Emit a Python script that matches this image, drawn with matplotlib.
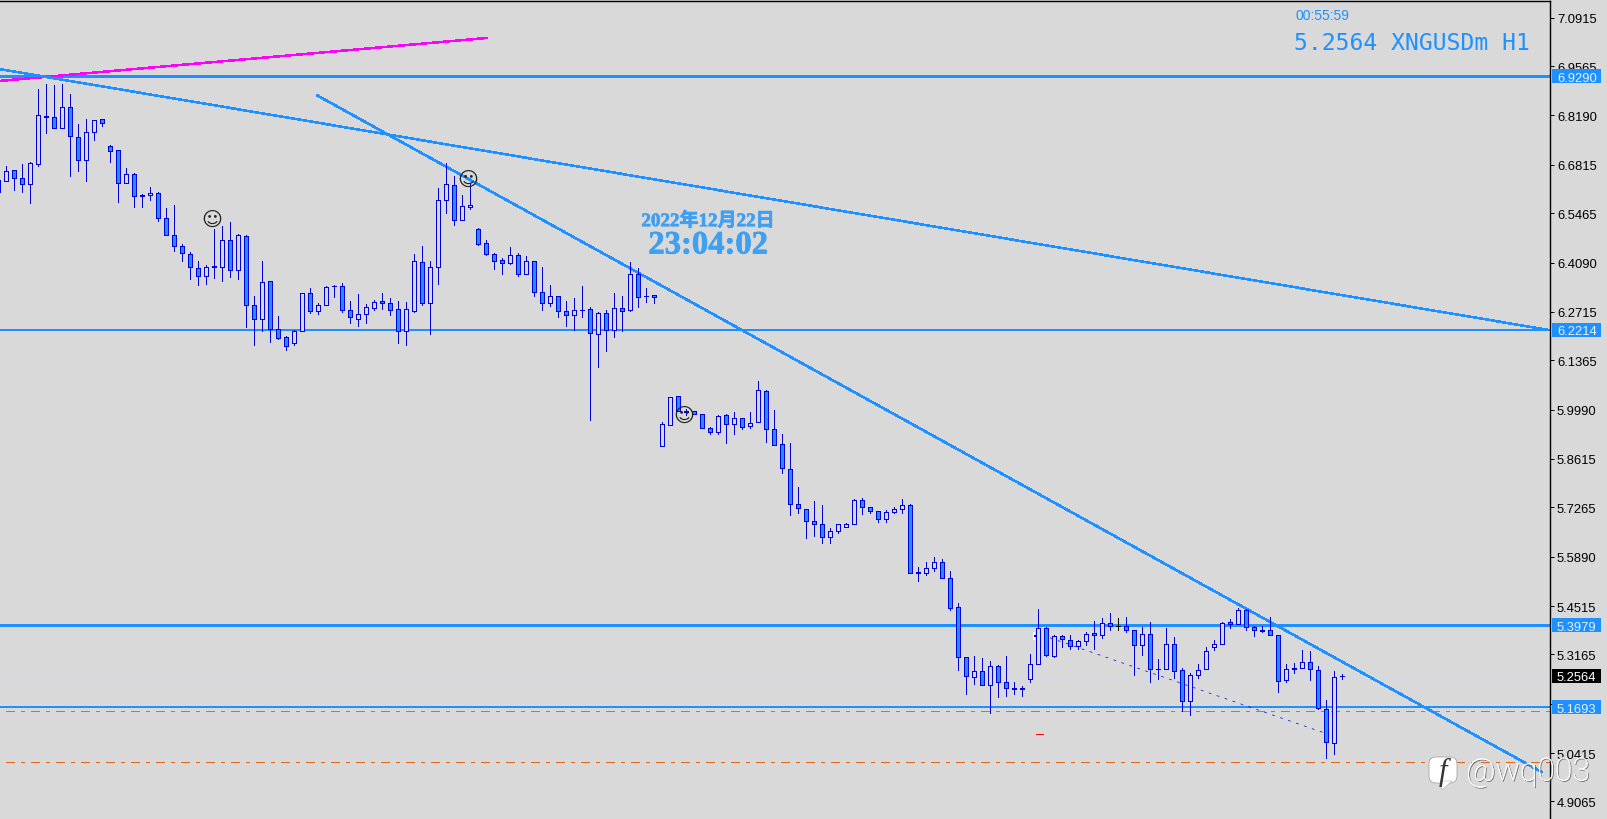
import numpy as np
import matplotlib
matplotlib.use("Agg")
import matplotlib.pyplot as plt
import matplotlib.patheffects as pe
from matplotlib.patches import FancyBboxPatch, Polygon, Rectangle
from matplotlib.transforms import IdentityTransform

BG = "#d9d9d9"
LINEBLUE = "#1e90ff"
WICK = "#0000dc"
PX = 0.72  # one pixel in points at dpi 100

opens = [
    6.607,
    6.636, 6.667, 6.645, 6.627, 6.683, 6.818, 6.815, 6.783, 6.843, 6.759, 6.694, 6.772, 6.808, 6.734, 6.723,
    6.630, 6.656, 6.597, 6.596, 6.603, 6.533, 6.486, 6.455, 6.433, 6.394, 6.371, 6.399, 6.396, 6.472, 6.387,
    6.483, 6.290, 6.251, 6.357, 6.224, 6.201, 6.186, 6.217, 6.324, 6.273, 6.292, 6.345, 6.344,
    6.277, 6.253, 6.265, 6.281, 6.302, 6.296, 6.279, 6.217, 6.273, 6.411, 6.295, 6.396, 6.584, 6.625, 6.527,
    6.564, 6.503, 6.464, 6.433, 6.415, 6.407, 6.430, 6.376, 6.413, 6.327, 6.295, 6.316, 6.274, 6.262, 6.278,
    6.279, 6.209, 6.268, 6.220, 6.282, 6.276, 6.378, 6.317, 6.319,
    5.897, 5.956, 6.037, 5.995, 5.996, 5.987, 5.948, 5.936, 5.985, 5.958, 5.976, 5.953, 5.965, 6.051, 5.945,
    5.904, 5.834, 5.736, 5.722, 5.689, 5.680, 5.644, 5.660, 5.671, 5.679, 5.747, 5.728, 5.717, 5.693, 5.713,
    5.721, 5.733, 5.545, 5.543, 5.557, 5.574, 5.530,
    5.449, 5.309, 5.253, 5.271, 5.231, 5.285, 5.240, 5.223, 5.223, 5.247, 5.289, 5.391, 5.311, 5.368, 5.357,
    5.339, 5.353, 5.375, 5.370, 5.405, 5.397, 5.396, 5.385, 5.343, 5.374, 5.277, 5.275, 5.346, 5.273, 5.186,
    5.259, 5.275, 5.337, 5.346, 5.407, 5.401, 5.441, 5.394, 5.385, 5.385, 5.371, 5.245, 5.279, 5.278, 5.296,
    5.273, 5.165, 5.069, 5.2564,
]
closes = [
    6.638,
    6.664, 6.645, 6.627, 6.687, 6.821, 6.814, 6.784, 6.843, 6.761, 6.694, 6.773, 6.807, 6.797, 6.719, 6.630,
    6.656, 6.594, 6.594, 6.603, 6.532, 6.485, 6.454, 6.435, 6.396, 6.371, 6.397, 6.396, 6.472, 6.387, 6.487,
    6.290, 6.251, 6.355, 6.223, 6.200, 6.175, 6.218, 6.324, 6.273, 6.290, 6.341, 6.343, 6.276,
    6.256, 6.266, 6.285, 6.299, 6.295, 6.276, 6.217, 6.279, 6.413, 6.295, 6.397, 6.584, 6.628, 6.527, 6.567,
    6.570, 6.460, 6.432, 6.413, 6.407, 6.430, 6.376, 6.413, 6.327, 6.296, 6.316, 6.273, 6.262, 6.277, 6.276,
    6.214, 6.268, 6.220, 6.282, 6.273, 6.377, 6.313, 6.315, 6.312,
    5.959, 6.035, 5.995, 5.993, 5.987, 5.947, 5.936, 5.982, 5.958, 5.976, 5.951, 5.962, 6.054, 5.945, 5.900,
    5.836, 5.735, 5.724, 5.688, 5.679, 5.643, 5.661, 5.680, 5.680, 5.747, 5.728, 5.716, 5.693, 5.714, 5.722,
    5.733, 5.544, 5.543, 5.558, 5.574, 5.529, 5.446,
    5.309, 5.256, 5.271, 5.231, 5.285, 5.239, 5.222, 5.221, 5.219, 5.290, 5.391, 5.314, 5.368, 5.359, 5.339,
    5.354, 5.374, 5.371, 5.405, 5.396, 5.395, 5.384, 5.343, 5.374, 5.275, 5.275, 5.346, 5.270, 5.186, 5.260,
    5.273, 5.326, 5.346, 5.405, 5.401, 5.441, 5.394, 5.384, 5.383, 5.371, 5.243, 5.276, 5.275, 5.296, 5.275,
    5.166, 5.072, 5.254, 5.2564,
]
highs = [
    6.638,
    6.679, 6.668, 6.685, 6.690, 6.894, 6.908, 6.905, 6.908, 6.880, 6.796, 6.808, 6.807, 6.810, 6.737, 6.723,
    6.674, 6.659, 6.599, 6.621, 6.605, 6.562, 6.570, 6.462, 6.438, 6.414, 6.402, 6.503, 6.512, 6.523, 6.490,
    6.487, 6.317, 6.414, 6.358, 6.261, 6.205, 6.222, 6.324, 6.339, 6.297, 6.344, 6.346, 6.352,
    6.303, 6.320, 6.294, 6.305, 6.325, 6.311, 6.303, 6.300, 6.434, 6.456, 6.412, 6.618, 6.687, 6.651, 6.596,
    6.631, 6.505, 6.473, 6.436, 6.422, 6.451, 6.436, 6.428, 6.413, 6.398, 6.347, 6.317, 6.303, 6.311, 6.345,
    6.285, 6.270, 6.278, 6.325, 6.317, 6.411, 6.395, 6.339, 6.319,
    5.965, 6.035, 6.038, 6.002, 5.996, 5.987, 5.951, 5.985, 5.988, 5.991, 5.976, 5.991, 6.080, 6.054, 5.998,
    5.930, 5.907, 5.782, 5.722, 5.743, 5.734, 5.669, 5.680, 5.683, 5.750, 5.754, 5.728, 5.717, 5.719, 5.728,
    5.751, 5.736, 5.559, 5.575, 5.589, 5.583, 5.550,
    5.460, 5.309, 5.313, 5.307, 5.297, 5.287, 5.311, 5.241, 5.228, 5.318, 5.442, 5.393, 5.372, 5.372, 5.372,
    5.358, 5.380, 5.411, 5.419, 5.431, 5.419, 5.421, 5.385, 5.392, 5.406, 5.305, 5.389, 5.366, 5.279, 5.265,
    5.291, 5.338, 5.358, 5.407, 5.416, 5.446, 5.444, 5.396, 5.397, 5.421, 5.372, 5.291, 5.294, 5.329, 5.325,
    5.283, 5.190, 5.269, 5.263,
]
lows = [
    6.607,
    6.636, 6.610, 6.607, 6.576, 6.677, 6.769, 6.784, 6.783, 6.650, 6.665, 6.637, 6.752, 6.791, 6.689, 6.579,
    6.630, 6.565, 6.565, 6.584, 6.526, 6.485, 6.442, 6.414, 6.364, 6.347, 6.350, 6.367, 6.358, 6.370, 6.364,
    6.230, 6.180, 6.219, 6.188, 6.197, 6.166, 6.180, 6.217, 6.269, 6.266, 6.290, 6.314, 6.272,
    6.241, 6.233, 6.241, 6.278, 6.280, 6.264, 6.186, 6.180, 6.270, 6.292, 6.211, 6.350, 6.548, 6.515, 6.527,
    6.559, 6.457, 6.429, 6.392, 6.378, 6.404, 6.371, 6.376, 6.317, 6.278, 6.289, 6.258, 6.233, 6.222, 6.258,
    5.971, 6.119, 6.163, 6.202, 6.219, 6.273, 6.286, 6.300, 6.297,
    5.897, 5.956, 5.995, 5.985, 5.987, 5.947, 5.930, 5.930, 5.907, 5.932, 5.944, 5.949, 5.965, 5.910, 5.900,
    5.821, 5.706, 5.712, 5.640, 5.648, 5.628, 5.628, 5.656, 5.671, 5.679, 5.709, 5.710, 5.687, 5.687, 5.710,
    5.712, 5.544, 5.522, 5.539, 5.550, 5.529, 5.440,
    5.274, 5.205, 5.233, 5.231, 5.154, 5.199, 5.202, 5.205, 5.202, 5.241, 5.289, 5.311, 5.308, 5.336, 5.333,
    5.333, 5.344, 5.333, 5.361, 5.386, 5.386, 5.380, 5.258, 5.316, 5.241, 5.249, 5.275, 5.252, 5.158, 5.149,
    5.252, 5.275, 5.330, 5.346, 5.389, 5.401, 5.386, 5.369, 5.380, 5.371, 5.213, 5.241, 5.264, 5.278, 5.244,
    5.164, 5.029, 5.040, 5.247,
]
black_bars = [139]

ticks = [7.0915, 6.9565, 6.8190, 6.6815, 6.5465, 6.4090, 6.2715, 6.1365, 5.9990, 5.8615,
         5.7265, 5.5890, 5.4515, 5.3165, 5.1790, 5.0415, 4.9065]
levels = [6.9290, 6.2214, 5.3979, 5.1693]
level_widths = [3, 2, 3, 2]
last_price = 5.2564
gray_level = 5.159
orange_level = 5.017

smile_x = [25.75, 57.75, 84.75]
smile_y = [6.529, 6.642, 5.982]

magenta_x = [-0.79, 60.0]
magenta_y = [6.9155, 7.0350]
trend1_x = [-0.79, 192.96]
trend1_y = [6.9481, 6.2205]
trend2_x = [38.9, 191.9]
trend2_y = [6.8745, 4.9890]
dotted_x = [130.46, 164.6]
dotted_y = [5.3629, 5.0989]

x = np.arange(len(opens)) - 1
opens = np.array(opens)
closes = np.array(closes)

fig = plt.figure(figsize=(16.08, 8.20), dpi=100, facecolor=BG)
ax = fig.add_axes([0, 0, 1550 / 1608, 818 / 820], facecolor=BG)
ax.set_xlim(-0.79, 192.96)
ax.set_ylim(4.8577, 7.1382)

for s in ["left", "bottom"]:
    ax.spines[s].set_visible(False)
for s in ["top", "right"]:
    ax.spines[s].set_linewidth(1.4 * PX)

ax.yaxis.tick_right()
ax.set_yticks(ticks)
ax.set_yticklabels(["%.4f" % t for t in ticks], fontfamily="Liberation Sans", fontsize=9.4)
ax.tick_params(axis="y", length=3, width=PX, pad=2, colors="black")
ax.set_xticks([])

# levels and trend lines sit under the candles
ax.axhline(last_price, color="#d0dbe6", lw=PX, zorder=1, antialiased=False)
for lv, w in zip(levels, level_widths):
    ax.axhline(lv, color=LINEBLUE, lw=w * PX, zorder=2, antialiased=False)
ax.plot([0, 192.96], [gray_level, gray_level], color="#808890", lw=PX,
        ls=(0, (9, 6, 3, 6)), zorder=2, antialiased=False)
ax.plot([0, 192.96], [orange_level, orange_level], color="#e0671a", lw=PX,
        ls=(0, (9, 6, 3, 6)), zorder=2, antialiased=False)
ax.plot(magenta_x, magenta_y, color="#ff00ff", lw=1.5 * PX, zorder=2, antialiased=False)
ax.plot(trend1_x, trend1_y, color=LINEBLUE, lw=1.5 * PX, zorder=2, antialiased=False)
ax.plot(trend2_x, trend2_y, color=LINEBLUE, lw=1.5 * PX, zorder=2, antialiased=False)
ax.plot(dotted_x, dotted_y, color=WICK, lw=0.7 * PX, ls=(0, (4, 8)), zorder=2, antialiased=True)
ax.plot([128.7, 129.6], [5.095, 5.095], color="#ff0000", lw=PX, zorder=2, antialiased=False)
ax.plot([165.3, 165.3], [5.085, 5.104], color="#e8c090", lw=PX, zorder=2, antialiased=False)

# candles
line_colors = [("black" if i in black_bars else WICK) for i in x]
ax.vlines(x, lows, highs, colors=line_colors, lw=PX, zorder=3, antialiaseds=False, capstyle="butt")
bottoms = np.minimum(opens, closes)
heights = np.abs(closes - opens)
faces = [(BG if c > o else LINEBLUE) for o, c in zip(opens, closes)]
ax.bar(x, heights, bottom=bottoms, width=0.5, color=faces, edgecolor=line_colors,
       linewidth=PX, zorder=4, antialiased=False)

# small leftovers next to the candle at 5.37
ax.plot([128.4, 128.4], [5.360, 5.375], color="white", lw=2 * PX, zorder=3, antialiased=False)
ax.plot([128.6, 129.0], [5.368, 5.368], color=WICK, lw=2 * PX, zorder=3, antialiased=False)

for sx, sy in zip(smile_x, smile_y):
    ax.text(sx, sy, "\u263a", fontfamily="DejaVu Sans", fontsize=14.5, color="#222222",
            ha="center", va="center", zorder=5)

# price labels on the scale
ytrans = ax.get_yaxis_transform()
box_h = 14 * 0.0027878
for lv in levels + [last_price]:
    fc = "black" if lv == last_price else LINEBLUE
    tc = "white" if lv == last_price else "#e6f0ff"
    ax.add_patch(Rectangle((1552 / 1550, lv - box_h / 2), 49 / 1550, box_h, transform=ytrans,
                           facecolor=fc, edgecolor="none", clip_on=False, zorder=6))
    ax.text(1557 / 1550, lv, "%.4f" % lv, transform=ytrans, fontfamily="Liberation Sans", fontsize=9.4,
            color=tc, ha="left", va="center_baseline", clip_on=False, zorder=7)


def figtext(px, py, s, **kw):
    fig.text(px / 1608, 1 - py / 820, s, **kw)


figtext(1296, 16, "00:55:59", fontfamily="Liberation Sans", fontsize=10, color=LINEBLUE, ha="left", va="center")
figtext(1294, 44, "5.2564 XNGUSDm H1", fontfamily="DejaVu Sans Mono", fontsize=16.6, color=LINEBLUE,
        ha="left", va="center")
date_fx = [pe.withStroke(linewidth=0.5, foreground="#3f9ff0")]
figtext(708, 222, "2022年12月22日", fontfamily=["Liberation Serif", "Noto Sans CJK SC"], fontweight="bold",
        fontsize=13.7, color="#3f9ff0", ha="center", va="center", path_effects=date_fx)
figtext(708, 246, "23:04:02", fontfamily="Liberation Serif", fontweight="bold", fontsize=23.5,
        color="#3f9ff0", ha="center", va="center", path_effects=date_fx)

# watermark
id_tr = IdentityTransform()
fig.add_artist(FancyBboxPatch((1432, 820 - 781), 22, 20, boxstyle="round,pad=3,rounding_size=7",
                              transform=id_tr, facecolor="white", edgecolor="#9a9a9a", lw=0.5))
fig.add_artist(Polygon([(1440, 820 - 782), (1452, 820 - 782), (1442, 820 - 791)], transform=id_tr,
                       facecolor="white", edgecolor="#9a9a9a", lw=0.3))
figtext(1443, 772, "f", fontfamily="Liberation Serif", fontstyle="italic", fontsize=22, color="#333333",
        ha="center", va="center")
figtext(1466, 773, "@wq003", fontfamily="Roboto", fontweight="light", fontsize=23, color="white", ha="left",
        va="center", path_effects=[pe.withSimplePatchShadow(offset=(0.8, -0.8), shadow_rgbFace="#555555", alpha=0.8),
                                   pe.Normal()])

fig.savefig("out.png", dpi=100, facecolor=BG)
